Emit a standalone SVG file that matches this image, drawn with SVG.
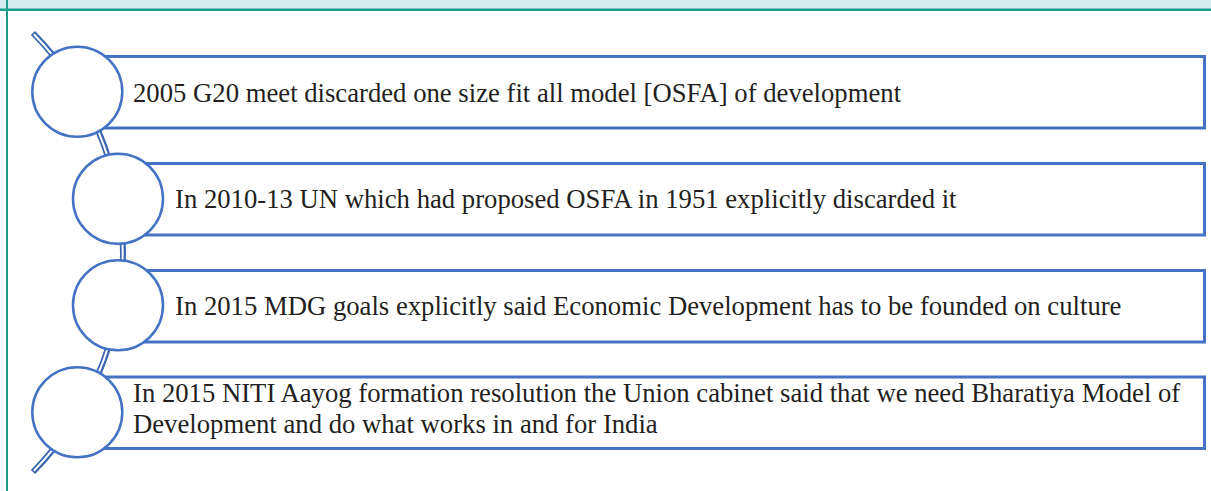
<svg xmlns="http://www.w3.org/2000/svg" width="1211" height="491" viewBox="0 0 1211 491">
<style>
.box{fill:#ffffff;stroke:#4472c4;stroke-width:3}
.dot{fill:#ffffff;stroke:#4472c4;stroke-width:2.5}
.txt{font-family:"Liberation Serif","Times New Roman",serif;font-size:26.7px;fill:#231f20}
.arcO{fill:none;stroke:#3a66b0;stroke-width:6}
.arcI{fill:none;stroke:#ffffff;stroke-width:2}
</style>
<rect x="0" y="0" width="1211" height="491" fill="#ffffff"/>
<rect x="0" y="0" width="1211" height="9.5" fill="#d5ecee"/>
<line x1="0" y1="9.8" x2="1211" y2="9.8" stroke="#1a9c8a" stroke-width="2.5"/>
<line x1="7" y1="0" x2="7" y2="491" stroke="#1a9c8a" stroke-width="2"/>
<g id="connectors">
<path class="arcO" d="M33,33 A312.7,312.7 0 0 1 33,472"/>
<path class="arcI" d="M33.9,34.2 A312.7,312.7 0 0 1 33.9,470.8"/>
</g>
<g id="node1">
<rect class="box" x="77" y="56.5" width="1127.5" height="71.5"/>
<circle class="dot" cx="77.3" cy="91.8" r="45"/>
<text class="txt" x="133" y="101.5">2005 G20 meet discarded one size fit all model [OSFA] of development</text>
</g>
<g id="node2">
<rect class="box" x="118" y="163.5" width="1086.5" height="71.5"/>
<circle class="dot" cx="118" cy="198.7" r="45"/>
<text class="txt" x="175" y="208">In 2010-13 UN which had proposed OSFA in 1951 explicitly discarded it</text>
</g>
<g id="node3">
<rect class="box" x="118" y="270.5" width="1086.5" height="71.5"/>
<circle class="dot" cx="118" cy="305.3" r="45"/>
<text class="txt" x="175" y="315">In 2015 MDG goals explicitly said Economic Development has to be founded on culture</text>
</g>
<g id="node4">
<rect class="box" x="77" y="377" width="1127.5" height="71.5"/>
<circle class="dot" cx="77.3" cy="412.3" r="45"/>
<text class="txt" x="133" y="402">In 2015 NITI Aayog formation resolution the Union cabinet said that we need Bharatiya Model of</text>
<text class="txt" x="133" y="433">Development and do what works in and for India</text>
</g>
</svg>
